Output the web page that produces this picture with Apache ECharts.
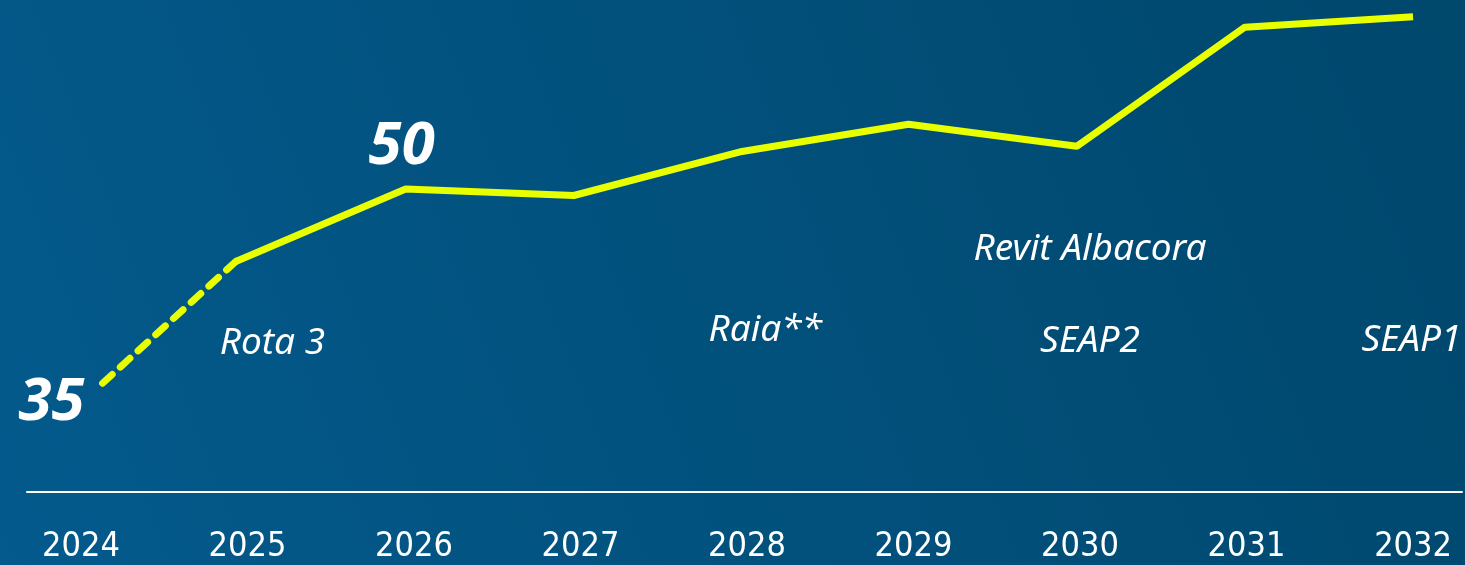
<!DOCTYPE html>
<html>
<head>
<meta charset="utf-8">
<style>
  html, body { margin: 0; padding: 0; }
  #chart { width: 1465px; height: 565px; }
</style>
<script src="https://cdn.jsdelivr.net/npm/echarts@6/dist/echarts.min.js"></script>
</head>
<body>
<div id="chart"></div>
<script>
// years shown on the axis
var years = [2024, 2025, 2026, 2027, 2028, 2029, 2030, 2031, 2032]
// line points: x position (year) and value
var pointYears = [2024.13, 2024.93, 2025.95, 2026.96, 2027.97, 2028.97, 2029.98, 2030.99, 2032.0]
var pointValues = [35, 44.4, 50, 49.5, 52.9, 55.0, 53.3, 62.5, 63.3]
// points that get a big value label
var labelledIdx = [0, 2]
// project notes
var noteTexts = ['Rota 3', 'Raia**', 'Revit Albacora', 'SEAP2', 'SEAP1']
var noteYears = [2025.15, 2028.11, 2030.06, 2030.06, 2031.99]
var noteValues = [38.1, 39.1, 45.3, 38.2, 38.3]

var chart = echarts.init(document.getElementById('chart'))

var pts = pointYears.map(function (y, i) { return [y, pointValues[i]] })

var bigLabels = labelledIdx.map(function (i) {
  return {
    value: pts[i],
    label: {
      position: i === 0 ? 'left' : 'top',
      distance: i === 0 ? 18 : 12,
      offset: i === 0 ? [0, 20] : [-4, 0]
    }
  }
})

var option = {
  backgroundColor: {
    type: 'linear', x: 0, y: 1, x2: 1, y2: 0,
    colorStops: [
      { offset: 0, color: '#035a8c' },
      { offset: 1, color: '#00476c' }
    ]
  },
  animation: false,
  grid: { left: 27, right: 3, top: 0, bottom: 73 },
  xAxis: {
    type: 'value',
    min: 2023.676,
    max: 2032.294,
    splitLine: { show: false },
    axisTick: { show: false },
    axisLine: { show: true, onZero: false, lineStyle: { color: '#ffffff', width: 2 } },
    axisLabel: {
      customValues: years,
      margin: 38,
      color: '#ffffff',
      fontFamily: 'DejaVu Sans Condensed',
      fontSize: 34,
      formatter: function (v) { return String(v) }
    }
  },
  yAxis: {
    type: 'value',
    min: 26.6,
    max: 64.6,
    show: false,
    splitLine: { show: false }
  },
  series: [
    {
      type: 'line',
      data: pts.slice(0, 2),
      showSymbol: false,
      lineStyle: { color: '#e8ff00', width: 7, type: [13, 11], cap: 'round' },
      z: 3
    },
    {
      type: 'line',
      data: pts.slice(1),
      showSymbol: false,
      lineStyle: { color: '#e8ff00', width: 7 },
      z: 3
    },
    {
      type: 'scatter',
      symbolSize: 0,
      itemStyle: { opacity: 1 },
      data: bigLabels,
      label: {
        show: true,
        formatter: function (p) { return String(p.value[1]) },
        color: '#ffffff',
        fontFamily: 'Noto Sans',
        fontStyle: 'italic',
        fontWeight: 'bold',
        fontSize: 60
      },
      z: 4
    },
    {
      type: 'scatter',
      symbolSize: 0,
      itemStyle: { opacity: 1 },
      data: noteTexts.map(function (t, i) { return { value: [noteYears[i], noteValues[i]], name: t } }),
      label: {
        show: true,
        position: 'inside',
        formatter: '{b}',
        color: '#ffffff',
        fontFamily: 'Noto Sans',
        fontStyle: 'italic',
        fontSize: 37
      },
      z: 5
    }
  ]
}

chart.setOption(option)
</script>
</body>
</html>
